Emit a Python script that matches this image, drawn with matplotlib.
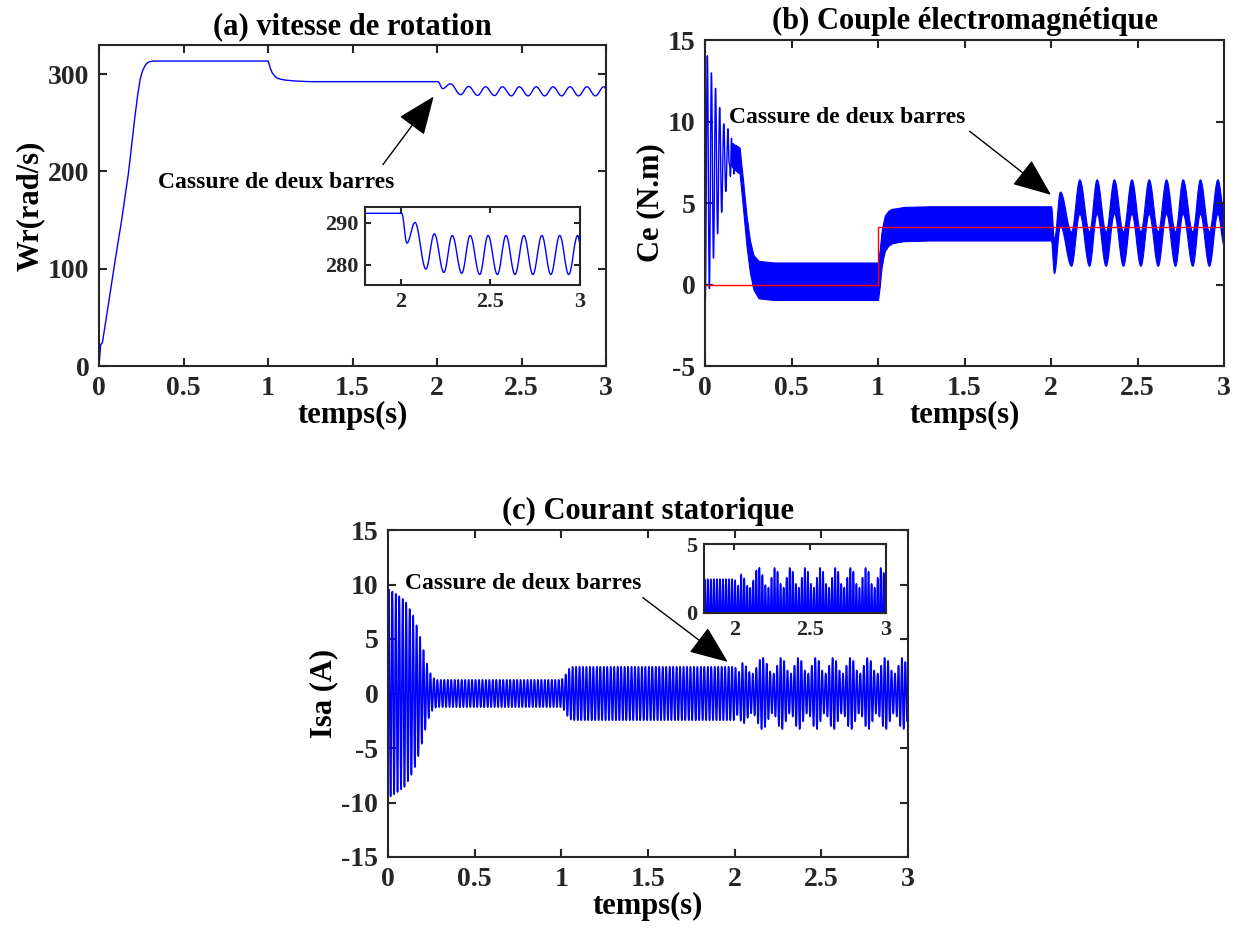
import numpy as np
import matplotlib
matplotlib.use("Agg")
import matplotlib.pyplot as plt

plt.rcParams['font.family'] = ['Liberation Serif', 'DejaVu Serif']
plt.rcParams['font.weight'] = 'bold'
plt.rcParams['axes.labelweight'] = 'bold'
plt.rcParams['axes.titleweight'] = 'bold'
plt.rcParams['axes.unicode_minus'] = False
plt.rcParams['path.simplify'] = False

# ---- data ----
# (a) rotor speed: start-up / load step (linear knots), then extrema after the fault
wr_t = [0, 0.01, 0.02, 0.04, 0.065, 0.095, 0.134, 0.174, 0.213, 0.23, 0.245, 0.258, 0.27,
        0.28, 0.29, 0.30, 0.315, 0.335, 0.36,
        1.0, 1.005, 1.015, 1.024, 1.04, 1.053, 1.075, 1.1, 1.16, 1.25, 2.005]
wr_v = [0, 22, 24, 46, 74, 108, 150, 198, 257, 280, 296, 303.5, 308,
        310.5, 312, 312.8, 313.3, 313.5, 313.5,
        313.5, 311.5, 305.5, 301.7, 298, 296, 294.8, 294, 293, 292.3, 292.3]
wr_osc_t = [2.005, 2.034, 2.079, 2.14, 2.187, 2.24, 2.287, 2.34, 2.387, 2.44, 2.487, 2.539,
            2.587, 2.637, 2.687, 2.737, 2.787, 2.837, 2.887, 2.937, 2.987, 3.0]
wr_osc_v = [292.3, 285.2, 290.1, 279.0, 287.4, 278.2, 287.0, 278.0, 287.0, 277.7, 287.0, 277.7,
            287.0, 277.7, 287.0, 277.7, 287.0, 277.7, 287.0, 277.7, 287.0, 285.2]

# (b) electromagnetic torque: mean level, start-up swing, ripple band, load torque
ce_t = [0, 0.02, 0.04, 0.065, 0.085, 0.11, 0.14, 0.16, 0.2, 0.22, 0.24, 0.26, 0.28, 0.31, 0.4,
        1.0, 1.01, 1.02, 1.03, 1.04, 1.06, 1.08, 1.15, 1.3, 2.0]
ce_v = [6.5, 6.7, 6.9, 7.3, 7.3, 7.5, 7.9, 7.9, 7.6, 5.5, 3.3, 1.7, 0.75, 0.3, 0.2,
        0.2, 1.0, 2.1, 2.7, 3.15, 3.45, 3.58, 3.71, 3.75, 3.75]
ce_swing_t = [0, 0.02, 0.04, 0.065, 0.085, 0.11, 0.14, 0.16, 0.18]
ce_swing_v = [7.4, 7.4, 5.9, 4.6, 3.55, 2.3, 1.25, 0.5, 0]
ce_ripple_t = [0, 0.12, 0.16, 0.2, 0.26, 0.31, 1.0, 1.02, 1.1, 3.0]
ce_ripple_v = [0, 0, 0.75, 0.8, 1.0, 1.15, 1.15, 1.1, 1.05, 1.05]
ce_osc_t = [2.0, 2.017, 2.052, 2.116, 2.164, 2.22, 2.264, 2.316, 2.364, 2.416, 2.465, 2.517,
            2.565, 2.617, 2.665, 2.717, 2.761, 2.817, 2.861, 2.913, 2.962, 3.0]
ce_osc_v = [3.75, 1.75, 4.65, 2.2, 5.4, 2.2, 5.4, 2.2, 5.4, 2.2, 5.4, 2.2,
            5.4, 2.2, 5.4, 2.2, 5.4, 2.2, 5.4, 2.2, 5.4, 3.4]
cr_t = [0, 1.0, 1.0, 3.0]
cr_v = [0, 0, 3.5, 3.5]

# (c) stator current: envelope of the 50 Hz phase current
isa_t = [0, 0.05, 0.1, 0.15, 0.18, 0.2, 0.22, 0.24, 0.26, 0.28, 1.0, 1.02, 1.04, 1.06, 2.0]
isa_a = [9.6, 9.1, 8.5, 7.0, 5.5, 4.3, 3.0, 2.0, 1.45, 1.25, 1.25, 1.6, 2.2, 2.45, 2.45]
isa_osc_t = [2.0, 2.02, 2.045, 2.1, 2.16, 2.22, 2.27, 2.32, 2.37, 2.42, 2.47, 2.52,
             2.57, 2.62, 2.67, 2.72, 2.77, 2.82, 2.87, 2.92, 2.97, 3.0]
isa_osc_a = [2.45, 1.9, 2.8, 1.8, 3.3, 1.8, 3.3, 1.8, 3.3, 1.8, 3.3, 1.8,
             3.3, 1.8, 3.3, 1.8, 3.3, 1.8, 3.3, 1.8, 3.3, 2.5]

f_supply = 50.0    # Hz, stator current
f_ripple = 100.0   # Hz, torque ripple
f_start = 42.0     # Hz, start-up torque swing

annot = "Cassure de deux barres"


def ease(t, tk, yk):
    """Smooth (half-cosine) path through read extrema."""
    tk = np.asarray(tk, float)
    yk = np.asarray(yk, float)
    i = np.clip(np.searchsorted(tk, t, side='right') - 1, 0, len(tk) - 2)
    u = np.clip((t - tk[i]) / (tk[i + 1] - tk[i]), 0, 1)
    w = (1 - np.cos(np.pi * u)) / 2
    return yk[i] + (yk[i + 1] - yk[i]) * w


t = np.linspace(0, 3, 60001)

wr = np.where(t < 2.005, np.interp(t, wr_t, wr_v), ease(t, wr_osc_t, wr_osc_v))

ce_mean = np.where(t < 2.0, np.interp(t, ce_t, ce_v), ease(t, ce_osc_t, ce_osc_v))
ce_band = np.interp(t, ce_ripple_t, ce_ripple_v)
ce = (ce_mean
      + np.interp(t, ce_swing_t, ce_swing_v) * np.cos(2 * np.pi * f_start * (t - 0.0135))
      + ce_band * np.sin(2 * np.pi * f_ripple * t))
early = t <= 0.2
late = t >= 0.15

isa_env = np.where(t < 2.0, np.interp(t, isa_t, isa_a), ease(t, isa_osc_t, isa_osc_a))
isa = isa_env * np.sin(2 * np.pi * f_supply * t)

# ---- drawing ----
W, H = 1238, 933
fig = plt.figure(figsize=(W / 100, H / 100), dpi=100)

AX_COL = '#262626'
BLUE = '#0000ff'


def box(ax, fs=20):
    for s in ax.spines.values():
        s.set_linewidth(1.5)
        s.set_color(AX_COL)
    ax.tick_params(direction='in', length=6, width=1.5, colors=AX_COL,
                   top=True, right=True, labelsize=fs, pad=7)
    for lb in ax.get_xticklabels() + ax.get_yticklabels():
        lb.set_fontweight('bold')


def axes_px(x0, y0, x1, y1):
    return fig.add_axes([x0 / W, 1 - y1 / H, (x1 - x0) / W, (y1 - y0) / H])


arrow = dict(arrowstyle='-|>,head_length=1.1,head_width=0.45', mutation_scale=22,
             lw=1.0, color='k', shrinkA=0, shrinkB=0)
TFS = 22
AFS = 17
XT = [0, 0.5, 1, 1.5, 2, 2.5, 3]
XT_LAB = ['0', '0.5', '1', '1.5', '2', '2.5', '3']

# (a)
ax1 = axes_px(99, 45, 606, 366)
ax1.plot(t, wr, color=BLUE, lw=1.0)
ax1.set_xlim(0, 3)
ax1.set_ylim(0, 330)
ax1.set_xticks(XT)
ax1.set_xticklabels(XT_LAB)
ax1.set_yticks([0, 100, 200, 300])
ax1.set_title('(a) vitesse de rotation', fontsize=TFS, pad=8)
ax1.set_xlabel('temps(s)', fontsize=TFS, labelpad=0)
ax1.set_ylabel('Wr(rad/s)', fontsize=TFS, labelpad=2)
box(ax1)
ax1.text(1.05, 189, annot, fontsize=AFS, ha='center', va='center')
ax1.annotate('', xy=(1.98, 277), xytext=(1.68, 207), arrowprops=arrow)

ins1 = axes_px(365, 207, 580, 285)
ins1.plot(t, wr, color=BLUE, lw=1.0)
ins1.set_xlim(1.8, 3)
ins1.set_ylim(275.2, 293.8)
ins1.set_xticks([2, 2.5, 3])
ins1.set_xticklabels(['2', '2.5', '3'])
ins1.set_yticks([280, 290])
box(ins1, fs=16)
ins1.tick_params(length=4, pad=5)

# (b)
ax2 = axes_px(705, 40, 1224, 366)
ax2.plot(t[early], ce[early], color=BLUE, lw=1.0)
ax2.fill_between(t[late], (ce_mean - ce_band)[late], (ce_mean + ce_band)[late],
                 color=BLUE, lw=0.8, edgecolor=BLUE)
ax2.plot(cr_t, cr_v, color='#ff0000', lw=1.0)
ax2.set_xlim(0, 3)
ax2.set_ylim(-5, 15)
ax2.set_xticks(XT)
ax2.set_xticklabels(XT_LAB)
ax2.set_yticks([-5, 0, 5, 10, 15])
ax2.set_title('(b) Couple électromagnétique', fontsize=TFS, pad=8)
ax2.set_xlabel('temps(s)', fontsize=TFS, labelpad=0)
ax2.set_ylabel('Ce (N.m)', fontsize=TFS, labelpad=2)
box(ax2)
ax2.text(0.82, 10.25, annot, fontsize=AFS, ha='center', va='center')
ax2.annotate('', xy=(2.0, 5.5), xytext=(1.53, 9.4), arrowprops=arrow)

# (c)
ax3 = axes_px(388, 530, 908, 857)
ax3.plot(t, isa, color=BLUE, lw=1.2)
ax3.set_xlim(0, 3)
ax3.set_ylim(-15, 15)
ax3.set_xticks(XT)
ax3.set_xticklabels(XT_LAB)
ax3.set_yticks([-15, -10, -5, 0, 5, 10, 15])
ax3.set_title('(c) Courant statorique', fontsize=TFS, pad=8)
ax3.set_xlabel('temps(s)', fontsize=TFS, labelpad=0)
ax3.set_ylabel('Isa (A)', fontsize=TFS, labelpad=2)
box(ax3)
ax3.text(0.78, 10.1, annot, fontsize=AFS, ha='center', va='center')
ax3.annotate('', xy=(1.96, 2.9), xytext=(1.47, 8.8), arrowprops=arrow)

ins3 = axes_px(704, 544, 886, 613)
ins3.plot(t, isa, color=BLUE, lw=1.2)
ins3.set_xlim(1.8, 3)
ins3.set_ylim(0, 5)
ins3.set_xticks([2, 2.5, 3])
ins3.set_xticklabels(['2', '2.5', '3'])
ins3.set_yticks([0, 5])
box(ins3, fs=16)
ins3.tick_params(length=4, pad=5)

fig.savefig('out.png', dpi=100)
